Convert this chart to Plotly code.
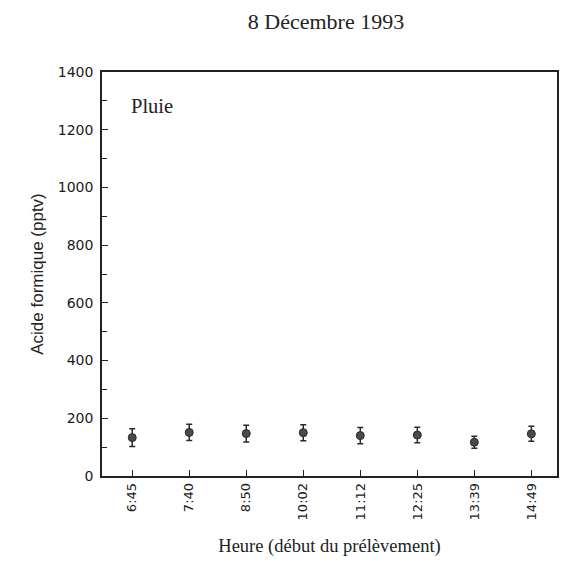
import plotly.graph_objects as go

# Sampling start times and formic acid concentrations (pptv) with uncertainties
heures = ["6:45", "7:40", "8:50", "10:02", "11:12", "12:25", "13:39", "14:49"]
acide_formique = [133, 151, 147, 150, 140, 142, 117, 146]
incertitude = [31, 28, 29, 28, 28, 27, 21, 26]

fig = go.Figure()
fig.add_trace(go.Scatter(
    x=list(range(len(heures))),
    y=acide_formique,
    mode="markers",
    marker=dict(size=8, color="#4a4a4a", line=dict(color="#2a2a2a", width=1)),
    error_y=dict(type="data", array=incertitude, visible=True,
                 color="#2a2a2a", thickness=1.5, width=3),
    showlegend=False,
))

fig.add_annotation(text="Pluie", xref="paper", yref="paper", x=0.059, y=0.915,
                   xanchor="left", yanchor="middle", showarrow=False,
                   font=dict(family="Liberation Serif", size=20.5, color="#222"))

fig.update_layout(
    width=567, height=563,
    margin=dict(l=102, r=8, t=72, b=87),
    paper_bgcolor="white", plot_bgcolor="white",
    title=dict(text="8 Décembre 1993", x=0.575, xanchor="center", y=0.962,
               yanchor="middle",
               font=dict(family="Liberation Serif", size=22, color="#222")),
    xaxis=dict(
        tickmode="array", tickvals=list(range(len(heures))), ticktext=heures,
        range=[-0.53, 7.45], tickangle=-90,
        ticks="inside", ticklen=6, tickcolor="#222", tickwidth=1.2,
        showline=True, linecolor="#222", linewidth=1.5, mirror=True,
        showgrid=False, zeroline=False,
        tickfont=dict(family="DejaVu Sans", size=13, color="#1a1a1a"),
        title=dict(text="Heure (début du prélèvement)", standoff=20,
                   font=dict(family="Liberation Serif", size=18.5, color="#222")),
    ),
    yaxis=dict(
        range=[0, 1400], tickmode="linear", tick0=0, dtick=200,
        ticks="inside", ticklen=6, tickcolor="#222", tickwidth=1.2,
        ticklabelstandoff=4,
        minor=dict(dtick=100, ticks="inside", ticklen=5, tickcolor="#222"),
        showline=True, linecolor="#222", linewidth=1.5, mirror=True,
        showgrid=False, zeroline=False,
        tickfont=dict(family="DejaVu Sans", size=14, color="#1a1a1a"),
        title=dict(text="Acide formique (pptv)", standoff=10,
                   font=dict(family="Liberation Sans", size=17, color="#222")),
    ),
)

fig.write_html("out.html")
